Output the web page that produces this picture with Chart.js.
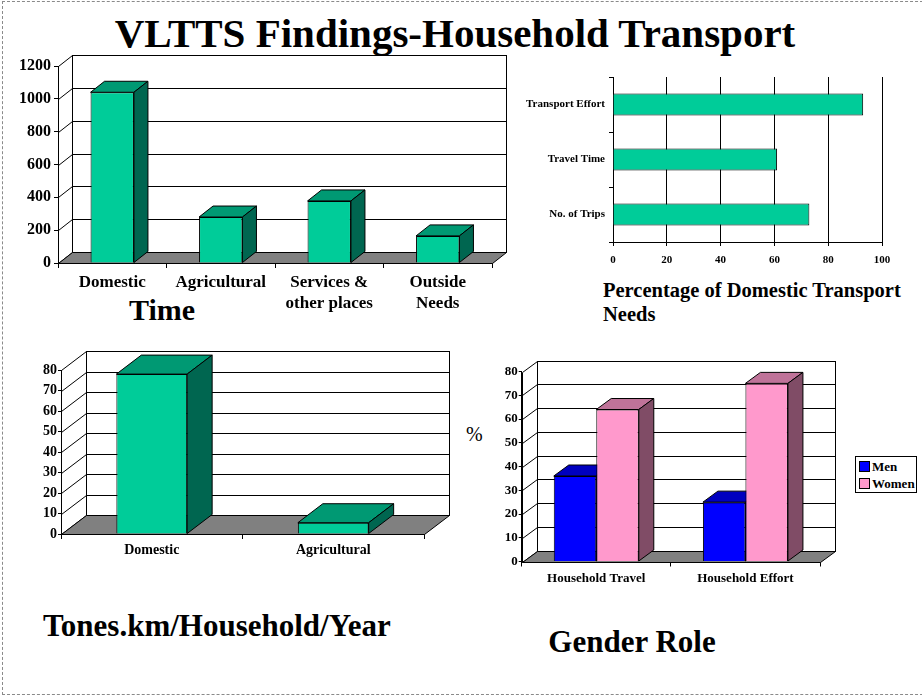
<!DOCTYPE html>
<html>
<head>
<meta charset="utf-8">
<script src="https://cdn.jsdelivr.net/npm/chart.js@4.4.1/dist/chart.umd.min.js"></script>
<style>
  html, body { margin: 0; padding: 0; background: #fff; }
  body { position: relative; width: 922px; height: 698px; overflow: hidden;
         font-family: 'Times New Roman', 'Liberation Serif', serif; color: #000; }
  canvas { position: absolute; }
  .frame { position: absolute; left: 2px; top: 1px; width: 930px; height: 692px;
           border: 1px dashed #8a8a8a; border-right: none; }
  .txt { position: absolute; white-space: nowrap; font-weight: bold; line-height: 1; }
  #legend4 { position: absolute; left: 855px; top: 456px; width: 60px; height: 35px;
             border: 1px solid #000; background: #fff; font-weight: bold; font-size: 13px; }
  #legend4 .row { position: absolute; left: 3px; height: 14px; line-height: 14px; }
  #legend4 .sw { display: inline-block; width: 9px; height: 9px; border: 1px solid #000;
                 vertical-align: -1px; margin-right: 2px; }
</style>
</head>
<body>
<div class="frame"></div>

<div class="txt" style="left:0; width:910px; text-align:center; top:13px; font-size:41px;">VLTTS Findings-Household Transport</div>
<div class="txt" style="left:112px; width:100px; text-align:center; top:295px; font-size:30px;">Time</div>
<div class="txt" style="left:603px; top:278px; font-size:20.5px; line-height:24px;">Percentage of Domestic Transport<br>Needs</div>
<div class="txt" style="left:43px; top:610px; font-size:31px;">Tones.km/Household/Year</div>
<div class="txt" style="left:532px; width:200px; text-align:center; top:626px; font-size:31px;">Gender Role</div>
<div class="txt" style="left:466px; top:424px; font-size:20px; font-weight:normal;">%</div>

<canvas id="c1" width="520" height="265" style="left:0; top:50px;"></canvas>
<canvas id="c2" width="400" height="215" style="left:520px; top:60px;"></canvas>
<canvas id="c3" width="460" height="220" style="left:0; top:340px;"></canvas>
<canvas id="c4" width="380" height="240" style="left:460px; top:350px;"></canvas>
<div id="legend4"></div>

<script>
// ---------------- DATA ----------------
const timeLabels = ["Domestic", "Agricultural", ["Services &", "other places"], ["Outside", "Needs"]];
const timeValues = [1040, 280, 378, 165];
const timeTicks = [0, 200, 400, 600, 800, 1000, 1200];

const needLabels = ["Transport Effort", "Travel Time", "No. of Trips"];
const needValues = [93, 61, 73];
const needTicks = [0, 20, 40, 60, 80, 100];

const tonesLabels = ["Domestic", "Agricultural"];
const tonesValues = [78, 5.5];
const tonesTicks = [0, 10, 20, 30, 40, 50, 60, 70, 80];

const genderLabels = ["Household Travel", "Household Effort"];
const genderSeries = ["Men", "Women"];
const menValues = [36, 25];
const womenValues = [64, 75];
const genderTicks = [0, 10, 20, 30, 40, 50, 60, 70, 80];

// ---------------- STYLE ----------------
const SERIF = "'Times New Roman', 'Liberation Serif', serif";
Chart.defaults.font.family = SERIF;
Chart.defaults.color = "#000";
Chart.defaults.animation = false;

const GREEN = { front: "#00CC99", top: "#009973", side: "#006650" };
const BLUE = { front: "#0000FF", top: "#0000BF", side: "#000080" };
const PINK = { front: "#FF99CC", top: "#BF7399", side: "#804C66" };

const plainNum = (v) => String(v);

// draws back wall, side wall, floor and the extruded bar faces
const box3d = {
  id: "box3d",
  beforeDatasetsDraw(chart, args, o) {
    const { ctx, chartArea: a } = chart;
    const yScale = chart.scales.y;
    const dx = o.dx, dy = o.dy;
    const line = (x1, y1, x2, y2) => {
      ctx.beginPath(); ctx.moveTo(x1, y1); ctx.lineTo(x2, y2); ctx.stroke();
    };
    const poly = (pts, fill) => {
      ctx.beginPath();
      pts.forEach((p, i) => (i ? ctx.lineTo(p[0], p[1]) : ctx.moveTo(p[0], p[1])));
      ctx.closePath();
      ctx.fillStyle = fill; ctx.fill(); ctx.stroke();
    };
    ctx.save();
    ctx.lineWidth = 1;
    ctx.strokeStyle = "#000";
    const L = Math.round(a.left) + 0.5, R = Math.round(a.right) + 0.5;
    const T = Math.round(a.top) + 0.5, B = Math.round(a.bottom) + 0.5;

    // back wall
    ctx.fillStyle = "#fff";
    ctx.fillRect(L + dx, T + dy, R - L, B - T);
    ctx.strokeRect(L + dx, T + dy, R - L, B - T);
    line(L, T, L, B);

    // grid on back wall + diagonals on side wall
    yScale.ticks.forEach((t) => {
      const py = Math.round(yScale.getPixelForValue(t.value)) + 0.5;
      line(L, py, L + dx, py + dy);
      line(L + dx, py + dy, R + dx, py + dy);
    });

    // floor
    poly([[L, B], [R, B], [R + dx, B + dy], [L + dx, B + dy]], "#808080");

    // bar top and side faces
    chart.data.datasets.forEach((ds, i) => {
      const meta = chart.getDatasetMeta(i);
      meta.data.forEach((bar) => {
        const p = bar.getProps(["x", "y", "base", "width"], true);
        const l = p.x - p.width / 2, r = p.x + p.width / 2;
        poly([[l, p.y], [l + dx, p.y + dy], [r + dx, p.y + dy], [r, p.y]], ds.topColor);
        poly([[r, p.y], [r + dx, p.y + dy], [r + dx, p.base + dy], [r, p.base]], ds.sideColor);
      });
    });
    ctx.restore();
  },
};

function axis3d(opts) {
  return {
    x: {
      grid: { offset: true, drawOnChartArea: false, drawTicks: true, tickLength: opts.xTick, color: "#000" },
      border: { display: true, color: "#000" },
      ticks: { font: { size: opts.xFont, weight: "bold", lineHeight: opts.xLine || 1.2 }, padding: opts.xPad, maxRotation: 0, autoSkip: false },
      afterFit: (s) => { s.height = opts.xHeight; },
    },
    y: {
      min: 0,
      max: opts.ticks[opts.ticks.length - 1],
      afterBuildTicks: (s) => { s.ticks = opts.ticks.map((v) => ({ value: v })); },
      grid: { drawOnChartArea: false, drawTicks: true, tickLength: opts.yTick, color: "#000" },
      border: { display: true, color: "#000" },
      ticks: { font: { size: opts.yFont, weight: "bold" }, padding: opts.yPad, callback: plainNum },
      afterFit: (s) => { s.width = opts.yWidth; },
    },
  };
}

// ---------------- CHART 1: Time ----------------
new Chart(document.getElementById("c1"), {
  type: "bar",
  data: {
    labels: timeLabels,
    datasets: [{
      data: timeValues,
      backgroundColor: GREEN.front, topColor: GREEN.top, sideColor: GREEN.side,
      borderColor: "#000", borderWidth: 1,
      categoryPercentage: 1, barPercentage: 0.4,
    }],
  },
  options: {
    responsive: false,
    layout: { padding: { left: 0, top: 16, right: 28, bottom: 0 } },
    plugins: { legend: { display: false }, tooltip: { enabled: false }, box3d: { dx: 14, dy: -11 } },
    scales: axis3d({ ticks: timeTicks, xFont: 17, xLine: 1.22, xTick: 5, xPad: 4, xHeight: 52,
                     yFont: 16, yTick: 4, yPad: 3, yWidth: 58 }),
  },
  plugins: [box3d],
});

// ---------------- CHART 2: Percentage of domestic needs ----------------
new Chart(document.getElementById("c2"), {
  type: "bar",
  data: {
    labels: needLabels,
    datasets: [{
      data: needValues,
      backgroundColor: GREEN.front,
      borderColor: "#000", borderWidth: 1,
      categoryPercentage: 1, barPercentage: 0.4,
    }],
  },
  options: {
    indexAxis: "y",
    responsive: false,
    layout: { padding: { left: 0, top: 17, right: 38, bottom: 0 } },
    plugins: { legend: { display: false }, tooltip: { enabled: false } },
    scales: {
      x: {
        min: 0, max: 100,
        afterBuildTicks: (s) => { s.ticks = needTicks.map((v) => ({ value: v })); },
        grid: { color: "#000", drawTicks: true, tickLength: 4 },
        border: { display: true, color: "#000" },
        ticks: { font: { size: 11, weight: "bold" }, padding: 8, callback: plainNum },
        afterFit: (s) => { s.height = 33; },
      },
      y: {
        grid: { offset: true, drawOnChartArea: false, drawTicks: true, tickLength: 4, color: "#000" },
        border: { display: true, color: "#000" },
        ticks: { font: { size: 11, weight: "bold" }, padding: 4 },
        afterFit: (s) => { s.width = 93; },
      },
    },
  },
});

// ---------------- CHART 3: Tones.km ----------------
new Chart(document.getElementById("c3"), {
  type: "bar",
  data: {
    labels: tonesLabels,
    datasets: [{
      data: tonesValues,
      backgroundColor: GREEN.front, topColor: GREEN.top, sideColor: GREEN.side,
      borderColor: "#000", borderWidth: 1,
      categoryPercentage: 1, barPercentage: 0.39,
    }],
  },
  options: {
    responsive: false,
    layout: { padding: { left: 0, top: 30, right: 36, bottom: 0 } },
    plugins: { legend: { display: false }, tooltip: { enabled: false }, box3d: { dx: 25, dy: -19 } },
    scales: axis3d({ ticks: tonesTicks, xFont: 14, xTick: 5, xPad: 3, xHeight: 26,
                     yFont: 14, yTick: 3, yPad: 1, yWidth: 61 }),
  },
  plugins: [box3d],
});

// ---------------- CHART 4: Gender role ----------------
const genderData = [menValues, womenValues];
const genderColors = [BLUE, PINK];
new Chart(document.getElementById("c4"), {
  type: "bar",
  data: {
    labels: genderLabels,
    datasets: genderSeries.map((name, i) => ({
      label: name,
      data: genderData[i],
      backgroundColor: genderColors[i].front, topColor: genderColors[i].top, sideColor: genderColors[i].side,
      borderColor: "#000", borderWidth: 1,
      categoryPercentage: 0.57, barPercentage: 1,
    })),
  },
  options: {
    responsive: false,
    layout: { padding: { left: 0, top: 21.5, right: 20, bottom: 0 } },
    plugins: { legend: { display: false }, tooltip: { enabled: false }, box3d: { dx: 15, dy: -11 } },
    scales: axis3d({ ticks: genderTicks, xFont: 13, xTick: 5, xPad: 4, xHeight: 28.5,
                     yFont: 13, yTick: 3, yPad: 1, yWidth: 61.7 }),
  },
  plugins: [box3d],
});

// legend for chart 4
const legendEl = document.getElementById("legend4");
genderSeries.forEach((name, i) => {
  const row = document.createElement("div");
  row.className = "row";
  row.style.top = (3 + i * 17) + "px";
  row.innerHTML = `<span class="sw" style="background:${genderColors[i].front}"></span>${name}`;
  legendEl.appendChild(row);
});
</script>
</body>
</html>
